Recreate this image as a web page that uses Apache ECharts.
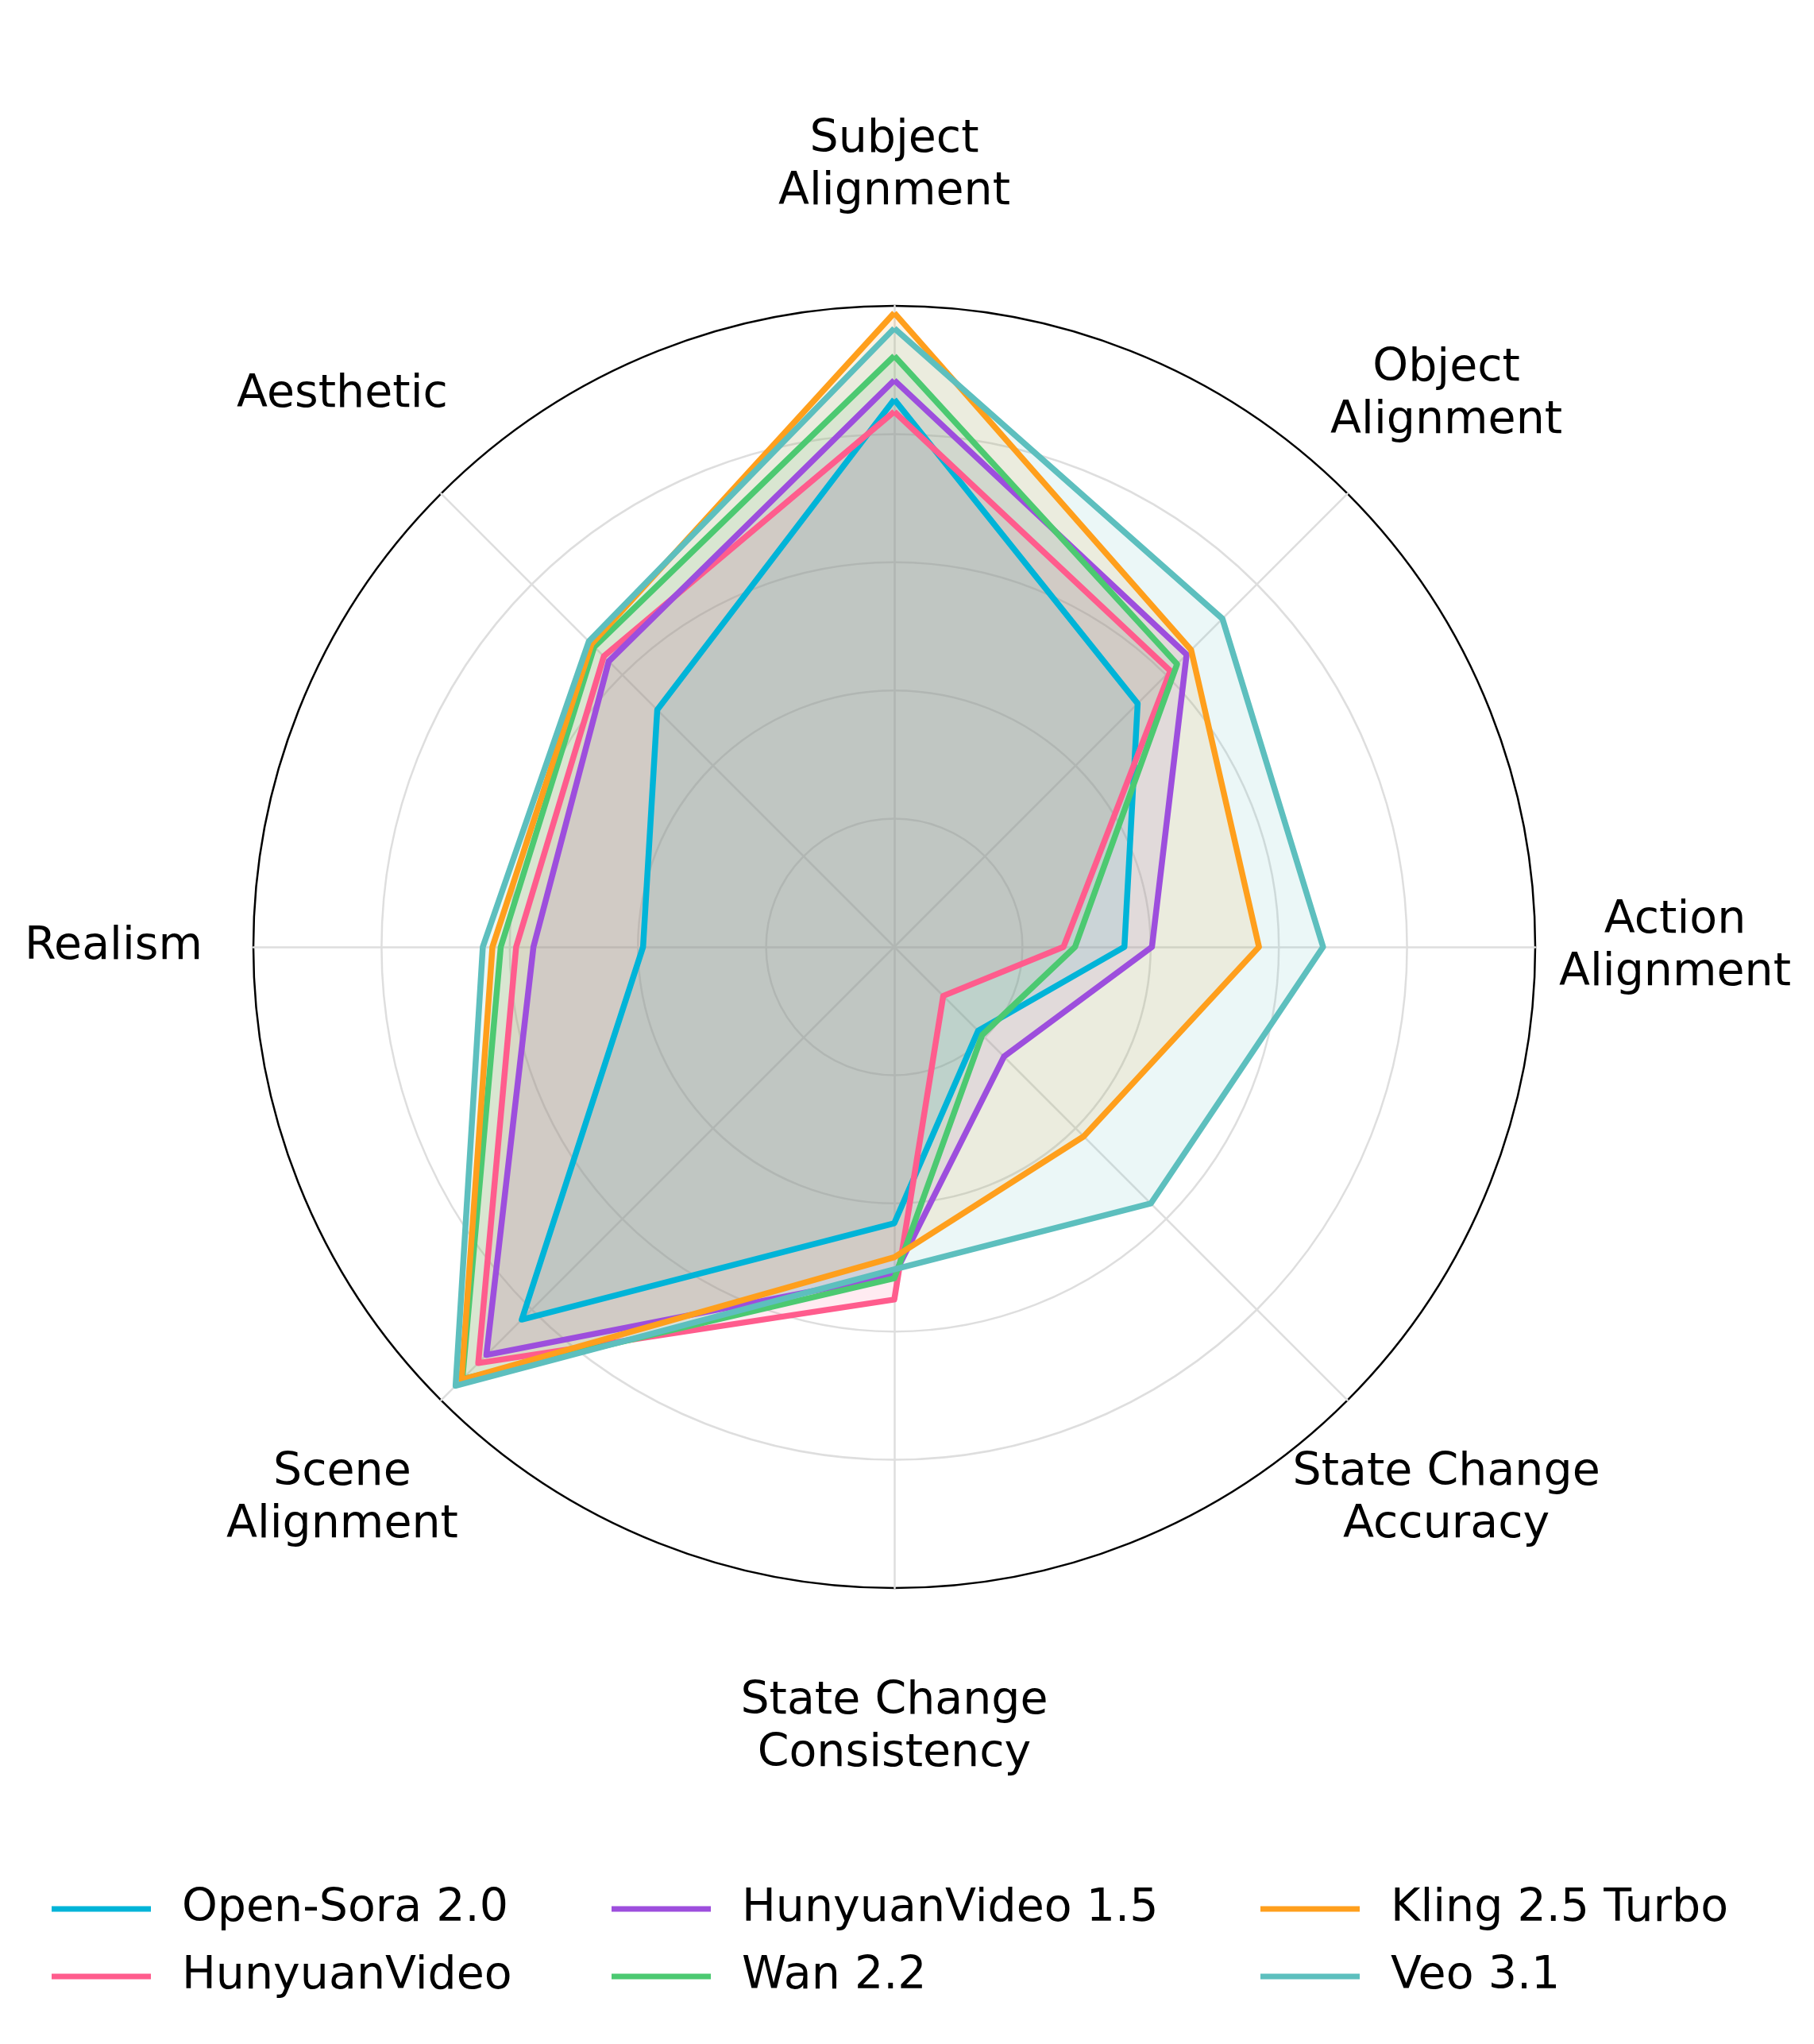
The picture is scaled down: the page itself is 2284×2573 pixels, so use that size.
<!DOCTYPE html>
<html>
<head>
<meta charset="utf-8">
<script src="https://cdn.jsdelivr.net/npm/echarts@6/dist/echarts.min.js"></script>
<style>
  html, body { margin: 0; padding: 0; background: #fff; }
  #chart { width: 2284px; height: 2573px; }
</style>
</head>
<body>
<div id="chart"></div>
<script>
// axes, clockwise from the top
var axes = ['Subject\nAlignment', 'Object\nAlignment', 'Action\nAlignment', 'State Change\nAccuracy',
            'State Change\nConsistency', 'Scene\nAlignment', 'Realism', 'Aesthetic'];

var models = ['Open-Sora 2.0', 'HunyuanVideo', 'HunyuanVideo 1.5', 'Wan 2.2', 'Kling 2.5 Turbo', 'Veo 3.1'];
var colors = ['#00B4D8', '#FF5C8D', '#9D4EDD', '#4CC971', '#FF9F1C', '#5DBFBE'];

// scores per model, same order as axes
var openSora   = [85.4, 53.7, 35.9, 18.5, 43.1, 82.2, 39.2, 52.3];
var hunyuan    = [83.5, 60.9, 26.4, 10.8, 55.0, 91.8, 59.0, 64.1];
var hunyuan15  = [88.4, 64.5, 40.2, 24.2, 51.2, 90.0, 56.3, 63.0];
var wan22      = [92.2, 62.4, 28.2, 19.4, 51.7, 95.3, 61.4, 66.2];
var kling25    = [98.9, 65.5, 56.9, 41.8, 48.4, 95.5, 62.7, 66.8];
var veo31      = [96.5, 72.4, 66.9, 56.6, 50.3, 96.8, 64.2, 67.4];
var scores = [openSora, hunyuan, hunyuan15, wan22, kling25, veo31];

var CX = 1126, CY = 1192, R = 807, LABEL_R = 983;
var FONT = '"DejaVu Sans", sans-serif';

// echarts radar goes counter-clockwise, so flip the order after the first axis
function ccw(arr) {
    return [arr[0]].concat(arr.slice(1).reverse());
}

var chart = echarts.init(document.getElementById('chart'));

// fills first (kept out of the legend), outlines on top
var fills = models.map(function (m, i) {
    return {
        type: 'radar',
        name: '_fill' + i,
        symbol: 'none',
        z: 2,
        lineStyle: { width: 0, opacity: 0 },
        areaStyle: { color: colors[i], opacity: 0.12 },
        data: [{ value: ccw(scores[i]), name: '_fill' + i }]
    };
});
var lines = models.map(function (m, i) {
    return {
        type: 'radar',
        name: m,
        symbol: 'none',
        z: 3,
        lineStyle: { color: colors[i], width: 7.5, join: 'round' },
        itemStyle: { color: colors[i] },
        data: [{ value: ccw(scores[i]), name: m }]
    };
});

// axis labels centred on their angle, like matplotlib does
var labels = axes.map(function (a, k) {
    var ang = (90 - k * 45) * Math.PI / 180;
    return {
        type: 'text',
        x: CX + LABEL_R * Math.cos(ang),
        y: CY - LABEL_R * Math.sin(ang),
        style: {
            text: a,
            font: '57px ' + FONT,
            fill: '#000',
            align: 'center',
            verticalAlign: 'middle',
            lineHeight: 66
        }
    };
});

function legendCol(left, names) {
    return {
        orient: 'vertical',
        left: left,
        top: 2368,
        data: names,
        icon: 'rect',
        itemWidth: 125,
        itemHeight: 7,
        itemGap: 25,
        textStyle: { fontFamily: FONT, fontSize: 57, color: '#000', lineHeight: 60, padding: [0, 0, 0, 34] }
    };
}

chart.setOption({
    backgroundColor: '#fff',
    animation: false,
    color: colors,
    legend: [
        legendCol(60, [models[0], models[1]]),
        legendCol(765, [models[2], models[3]]),
        legendCol(1582, [models[4], models[5]])
    ],
    radar: {
        center: [CX, CY],
        radius: R,
        startAngle: 90,
        shape: 'circle',
        splitNumber: 5,
        indicator: ccw(axes).map(function (a) { return { name: a, min: 0, max: 100 }; }),
        axisName: { show: false },
        axisLine: { lineStyle: { color: '#dedede', width: 2.5 } },
        splitLine: { lineStyle: { color: ['#dedede', '#dedede', '#dedede', '#dedede', '#dedede', '#000'], width: 2.5 } },
        splitArea: { show: false }
    },
    graphic: labels,
    series: fills.concat(lines)
});
</script>
</body>
</html>
